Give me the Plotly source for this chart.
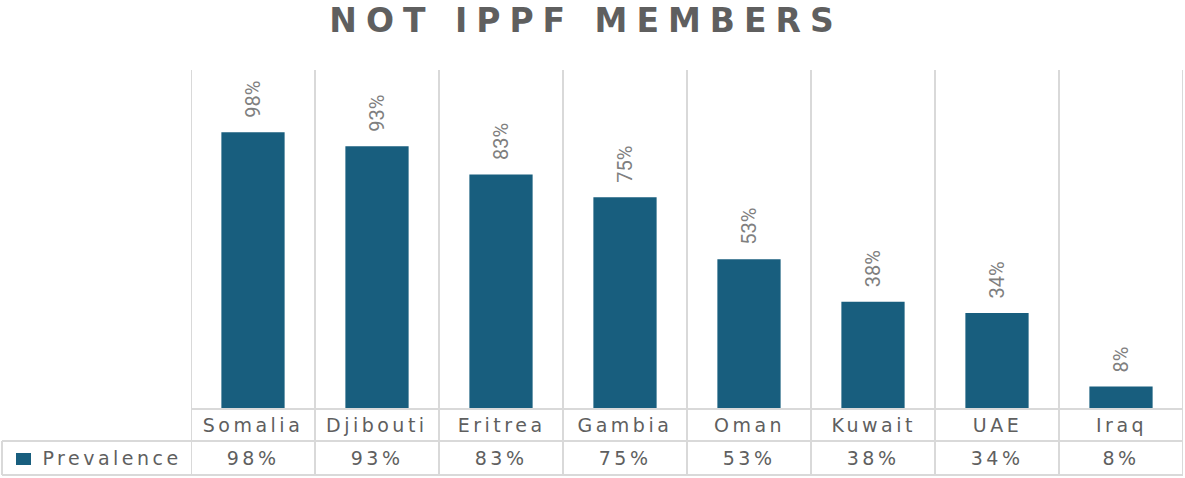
import plotly.graph_objects as go

# --- dados ---
paises = ['Somalia', 'Djibouti', 'Eritrea', 'Gambia', 'Oman', 'Kuwait', 'UAE', 'Iraq']
prevalencia = [98, 93, 83, 75, 53, 38, 34, 8]
serie_nome = 'Prevalence'
titulo = 'NOT IPPF MEMBERS'

COR_BARRA = '#185E7E'
COR_TEXTO = '#5F5F5F'
COR_GRADE = '#D9D9D9'
FONTE_TAB = 'DejaVu Sans, sans-serif'

W, H = 1185, 478
M_L, M_R, M_T, M_B = 191, 2, 70, 69
plot_h = H - M_T - M_B
plot_w = W - M_L - M_R

def py(px):
    # pixel (abaixo da base do grafico) -> coordenada paper
    return -px / plot_h

def px_x(px):
    return (px - M_L) / plot_w

fig = go.Figure()
fig.add_trace(go.Bar(
    x=paises,
    y=prevalencia,
    name=serie_nome,
    marker=dict(color=COR_BARRA, line=dict(width=0)),
    width=0.51,
    showlegend=False,
    hoverinfo='x+y',
))

# rotulos rotacionados acima das barras
anots = []
for p, v in zip(paises, prevalencia):
    anots.append(dict(
        x=p, y=v, xref='x', yref='y', text=f'{v}%', showarrow=False,
        textangle=-90, yanchor='bottom', yshift=12,
        font=dict(family='Roboto, sans-serif', size=20, color='#7F7F7F'),
    ))

# tabela de dados abaixo do grafico
linha1 = py(32)
linha2 = py(66)
for p, v in zip(paises, prevalencia):
    anots.append(dict(
        x=p, y=(0 + linha1) / 2, xref='x', yref='paper', text=p, showarrow=False,
        yanchor='middle', font=dict(family=FONTE_TAB, size=19, color=COR_TEXTO),
    ))
    anots.append(dict(
        x=p, y=(linha1 + linha2) / 2, xref='x', yref='paper', text=f'{v}%', showarrow=False,
        yanchor='middle', font=dict(family=FONTE_TAB, size=19, color=COR_TEXTO),
    ))
anots.append(dict(
    x=px_x(58), y=(linha1 + linha2) / 2, xref='paper', yref='paper', xanchor='left', yanchor='middle',
    text=serie_nome, showarrow=False,
    font=dict(family=FONTE_TAB, size=19, color=COR_TEXTO),
))

shapes = []
linha = dict(color=COR_GRADE, width=2)
for i in range(len(paises) + 1):
    shapes.append(dict(type='line', xref='x', yref='paper', x0=i - 0.5, x1=i - 0.5,
                       y0=linha2, y1=1, line=linha, layer='below'))
shapes.append(dict(type='line', xref='paper', yref='paper', x0=0, x1=1, y0=0, y1=0, line=linha))
shapes.append(dict(type='line', xref='paper', yref='paper', x0=px_x(2), x1=1, y0=linha1, y1=linha1, line=linha))
shapes.append(dict(type='line', xref='paper', yref='paper', x0=px_x(2), x1=1, y0=linha2, y1=linha2, line=linha))
shapes.append(dict(type='line', xref='paper', yref='paper', x0=px_x(2), x1=px_x(2), y0=linha1, y1=linha2, line=linha))
# chave da legenda (quadrado)
shapes.append(dict(type='rect', xref='paper', yref='paper', x0=px_x(16), x1=px_x(31),
                   y0=py(44), y1=py(56), fillcolor=COR_BARRA, line=dict(width=0)))

fig.update_layout(
    width=W, height=H,
    margin=dict(l=M_L, r=M_R, t=M_T, b=M_B),
    paper_bgcolor='white', plot_bgcolor='white',
    title=dict(text=f'<b>{titulo}</b>', x=586 / W, xanchor='center', xref='container',
               y=1 - 20 / H, yanchor='middle', yref='container',
               font=dict(family='DejaVu Sans, sans-serif', size=33, color=COR_TEXTO)),
    xaxis=dict(range=[-0.5, len(paises) - 0.5], showticklabels=False, showgrid=False,
               zeroline=False, showline=False, ticks=''),
    yaxis=dict(range=[0, 120], showticklabels=False, showgrid=False, zeroline=False,
               showline=False, ticks=''),
    annotations=anots,
    shapes=shapes,
    bargap=0.49,
)

# espaçamento entre letras (o plotly nao tem opcao para isso) e margem da pagina
post = """
document.body.style.margin = '0';
function espacar() {
  var gd = document.getElementById('{plot_id}');
  gd.querySelectorAll('.gtitle').forEach(function(t){ t.style.letterSpacing = '9px'; });
  gd.querySelectorAll('.annotation').forEach(function(a){
    var idx = parseInt(a.getAttribute('data-index'));
    if (idx >= 8) {
      a.querySelectorAll('.annotation-text').forEach(function(t){ t.style.letterSpacing = '3.5px'; });
    }
  });
}
espacar();
document.getElementById('{plot_id}').on('plotly_afterplot', espacar);
"""

fig.write_html('out.html', post_script=post, config={'displayModeBar': False})
